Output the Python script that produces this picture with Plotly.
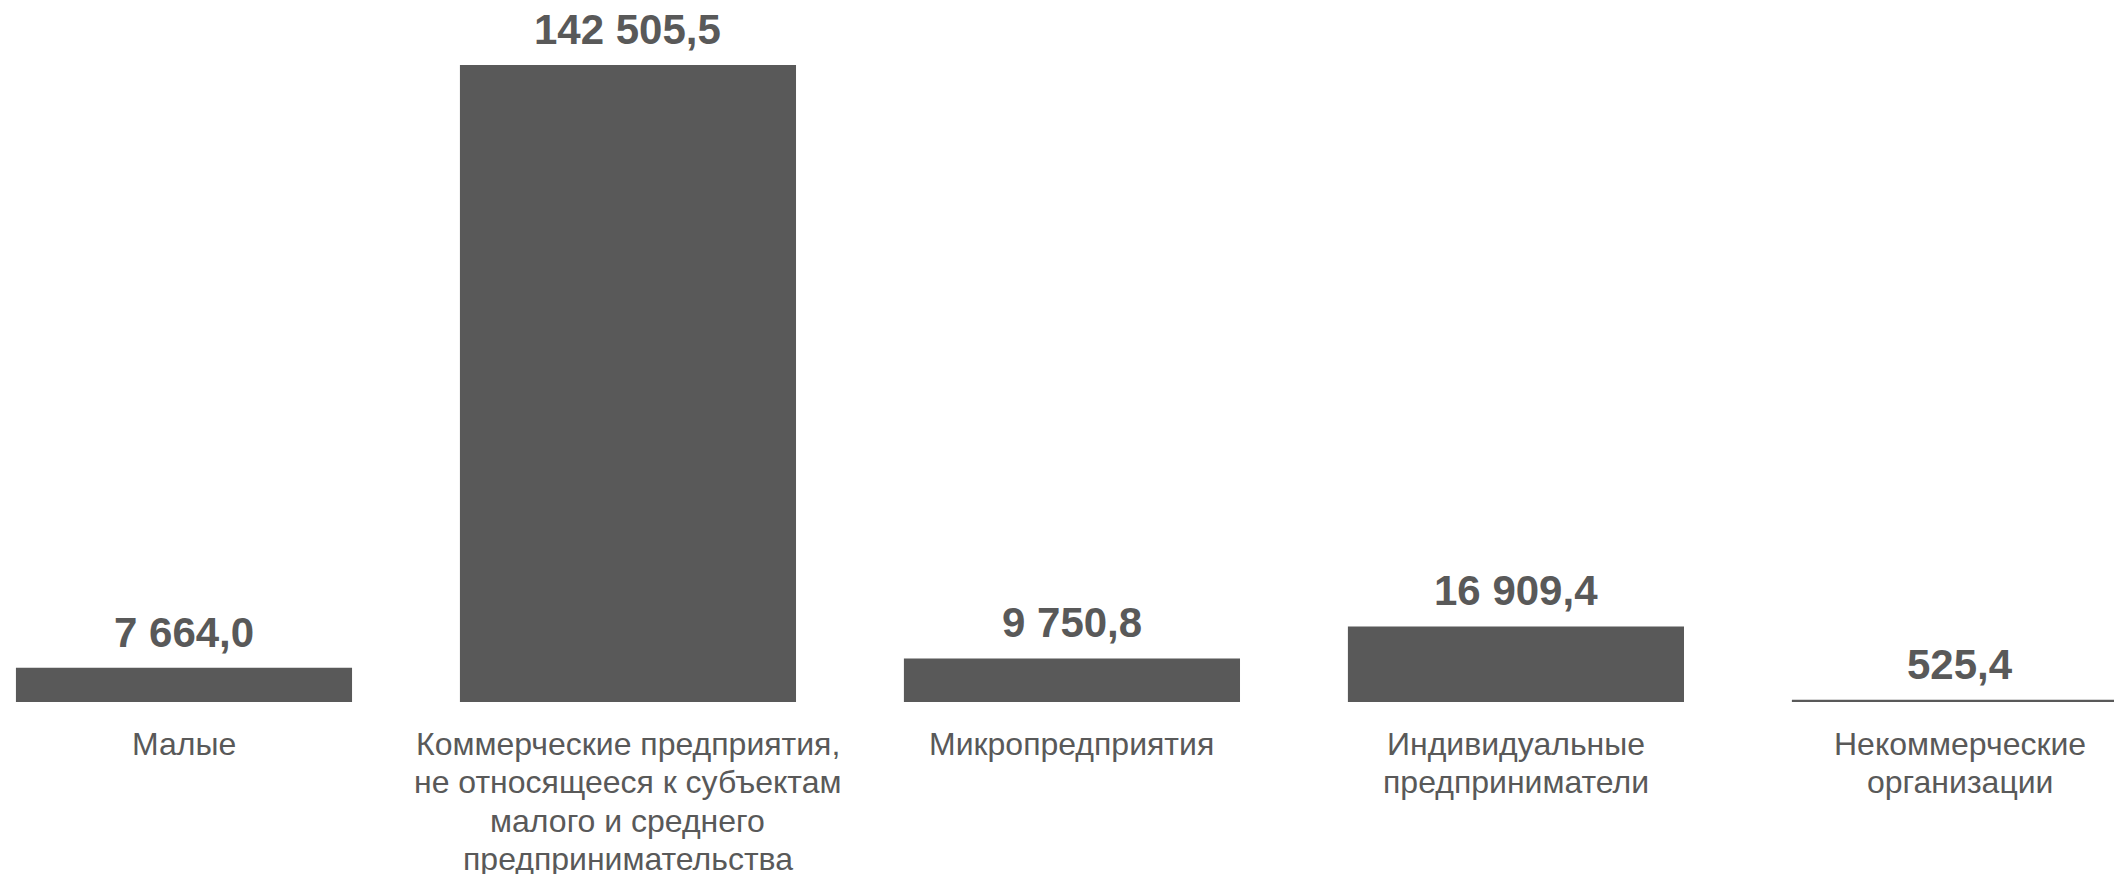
import plotly.graph_objects as go

categories = [
    "Малые",
    "Коммерческие предприятия,\nне относящееся к субъектам\nмалого и среднего\nпредпринимательства",
    "Микропредприятия",
    "Индивидуальные\nпредприниматели",
    "Некоммерческие\nорганизации",
]
values = [7664.0, 142505.5, 9750.8, 16909.4, 525.4]
value_labels = ["7 664,0", "142 505,5", "9 750,8", "16 909,4", "525,4"]

color = "#595959"
font_family = "Liberation Sans, Arial, sans-serif"

fig = go.Figure()
fig.add_trace(go.Bar(
    x=list(range(len(categories))),
    y=values,
    width=0.757,
    marker=dict(color=color, line=dict(width=0)),
    hoverinfo="skip",
))

for i, (v, lab) in enumerate(zip(values, value_labels)):
    fig.add_annotation(x=i, y=v, xref="x", yref="y", text="<b>%s</b>" % lab,
                       showarrow=False, yanchor="bottom", yshift=11, borderpad=0,
                       font=dict(family=font_family, size=42, color=color))
    for k, line in enumerate(categories[i].split("\n")):
        fig.add_annotation(x=i, y=0, xref="x", yref="y", text=line,
                           showarrow=False, yanchor="middle",
                           yshift=-(42 + 38.4 * k), align="center",
                           font=dict(family=font_family, size=32, color=color))

fig.update_layout(
    width=2114, height=874,
    margin=dict(l=0, r=0, t=0, b=172),
    paper_bgcolor="white", plot_bgcolor="white",
    showlegend=False,
    xaxis=dict(range=[-0.4144, 4.347], showticklabels=False, showgrid=False,
               zeroline=False, showline=False, ticks=""),
    yaxis=dict(range=[0, 157046], visible=False, showgrid=False, zeroline=False),
)

fig.write_html(
    "out.html",
    config={"displayModeBar": False},
    post_script="document.body.style.margin='0';document.body.style.overflow='hidden';",
)
